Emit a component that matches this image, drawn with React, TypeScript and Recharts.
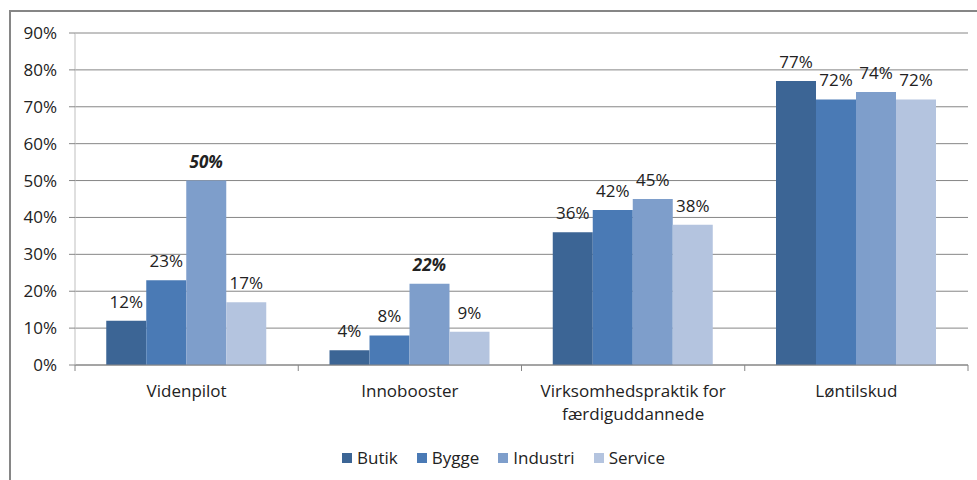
import React from "react";
import { BarChart, Bar, XAxis, YAxis, CartesianGrid, LabelList } from "recharts";

const categories = [
  "Videnpilot",
  "Innobooster",
  "Virksomhedspraktik for\nfærdiguddannede",
  "Løntilskud",
];
const butik = [12, 4, 36, 77];
const bygge = [23, 8, 42, 72];
const industri = [50, 22, 45, 74];
const service = [17, 9, 38, 72];
const seriesNames = ["Butik", "Bygge", "Industri", "Service"];
const yTicks = [0, 10, 20, 30, 40, 50, 60, 70, 80, 90];
// Industri labels drawn bold italic in the original
const industriEmphasis = [true, true, false, false];

const colors = ["#3C6595", "#4A7AB5", "#7E9ECB", "#B4C4DF"];
const FONT = "'Open Sans', sans-serif";
const W = 977;
const H = 480;
const PLOT_LEFT = 75;
const PLOT_RIGHT = 968;
const BAND = (PLOT_RIGHT - PLOT_LEFT) / categories.length;

const data = categories.map((c, i) => ({
  name: c,
  Butik: butik[i],
  Bygge: bygge[i],
  Industri: industri[i],
  Service: service[i],
}));

const CategoryTick = (props: any) => {
  const { x, y, payload, index } = props;
  const lines = String(payload.value).split("\n");
  return (
    <g>
      <line x1={x - BAND / 2} x2={x - BAND / 2} y1={y} y2={y + 6} stroke="#868686" />
      {index === categories.length - 1 && (
        <line x1={x + BAND / 2} x2={x + BAND / 2} y1={y} y2={y + 6} stroke="#868686" />
      )}
      <text x={x} y={y + 32} textAnchor="middle" fill="#222" fontSize={17} fontFamily={FONT}>
        {lines.map((l, i) => (
          <tspan key={i} x={x} dy={i === 0 ? 0 : 23}>
            {l}
          </tspan>
        ))}
      </text>
    </g>
  );
};

const makeLabel = (emphasis?: boolean[]) => (props: any) => {
  const { x, y, width, value, index } = props;
  const strong = emphasis ? emphasis[index] : false;
  return (
    <text
      x={x + width / 2}
      y={y - 13}
      textAnchor="middle"
      fill="#222"
      fontSize={17}
      fontFamily={FONT}
      fontWeight={strong ? 700 : 400}
      fontStyle={strong ? "italic" : "normal"}
    >
      {`${value}%`}
    </text>
  );
};

export default function App() {
  return (
    <div style={{ position: "absolute", left: 0, top: 0, width: W, height: H, overflow: "hidden", background: "#fff" }}>
      <div
        style={{
          position: "absolute",
          left: 9,
          top: 10,
          width: 1100,
          height: 600,
          border: "2px solid #868686",
        }}
      />
      <div style={{ position: "absolute", left: 0, top: 0 }}>
        <BarChart
          width={W}
          height={H}
          data={data}
          margin={{ top: 33, right: W - PLOT_RIGHT, left: 15, bottom: 55 }}
          barCategoryGap="14%"
          barGap={0}
        >
          <CartesianGrid vertical={false} stroke="#868686" />
          <XAxis
            dataKey="name"
            height={60}
            interval={0}
            tickLine={false}
            tickSize={0}
            tickMargin={0}
            axisLine={{ stroke: "#868686" }}
            tick={<CategoryTick />}
          />
          <YAxis
            width={60}
            domain={[0, 90]}
            ticks={yTicks}
            interval={0}
            tickFormatter={(v) => `${v}%`}
            tickSize={6}
            tickMargin={12}
            tickLine={{ stroke: "#868686" }}
            axisLine={{ stroke: "#BFBFBF" }}
            tick={{ fill: "#222", fontSize: 17, fontFamily: FONT }}
          />
          {seriesNames.map((s, i) => (
            <Bar key={s} dataKey={s} fill={colors[i]} isAnimationActive={false}>
              <LabelList content={makeLabel(s === "Industri" ? industriEmphasis : undefined)} />
            </Bar>
          ))}
        </BarChart>
      </div>
      <div
        style={{
          position: "absolute",
          left: 15,
          width: W,
          top: 446,
          display: "flex",
          justifyContent: "center",
          gap: 19,
          fontFamily: FONT,
          fontSize: 17,
          color: "#222",
        }}
      >
        {seriesNames.map((s, i) => (
          <div key={s} style={{ display: "flex", alignItems: "center" }}>
            <span style={{ width: 10, height: 10, background: colors[i], marginRight: 5, display: "inline-block" }} />
            <span>{s}</span>
          </div>
        ))}
      </div>
    </div>
  );
}
